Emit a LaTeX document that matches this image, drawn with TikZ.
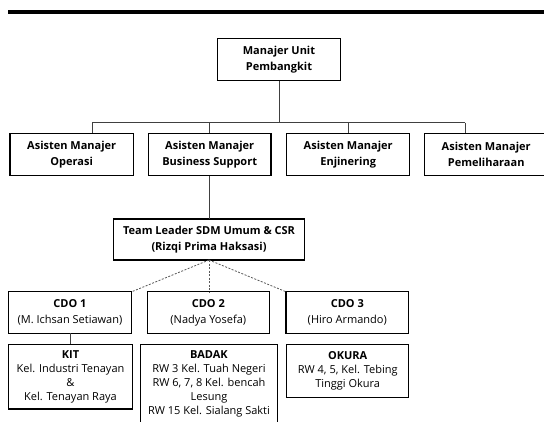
\documentclass[tikz,border=0pt]{standalone}
\usepackage{fontspec}
\setmainfont{Open Sans}
\begin{document}
\begin{tikzpicture}[x=1pt,y=-1pt,
  box/.style={draw=black, line width=1.4pt, inner sep=0pt, outer sep=0pt, align=center, fill=white},
  hd/.style={font=\bfseries\fontsize{11}{16.5}\selectfont},
  cdo/.style={font=\fontsize{11}{15.7}\selectfont},
  area/.style={font=\fontsize{11}{14}\selectfont},
  conn/.style={draw=black!75, line width=0.9pt},
  dconn/.style={draw=black!65, line width=0.8pt, dash pattern=on 2pt off 1.5pt}]
\useasboundingbox (0,0) rectangle (544,421);
\fill[white] (0,0) rectangle (544,421);
% top rule
\coordinate (ruleL) at (8,12);
\coordinate (ruleR) at (546,12);
\draw[line width=4pt] (ruleL) -- (ruleR);

% boxes
\node[box, hd, minimum width=123.4pt, minimum height=42.4pt] (mup) at (279,59.5) {Manajer Unit\\Pembangkit};
\node[box, hd, minimum width=123.3pt, minimum height=42.4pt] (a1) at (71.7,154.5) {Asisten Manajer\\Operasi};
\node[box, hd, minimum width=122.7pt, minimum height=42.4pt] (a2) at (209.7,154.5) {Asisten Manajer\\Business Support};
\node[box, hd, minimum width=123pt, minimum height=42.4pt] (a3) at (348.2,154.5) {Asisten Manajer\\Enjinering};
\node[box, hd, minimum width=123pt, minimum height=42.4pt] (a4) at (486.2,154.5) {Asisten Manajer\\Pemeliharaan};
\node[box, hd, minimum width=190.7pt, minimum height=41pt] (tl) at (209,239.5) {Team Leader SDM Umum \& CSR\\(Rizqi Prima Haksasi)};
\node[box, cdo, minimum width=123.4pt, minimum height=41.7pt] (c1) at (70,312.6) {\textbf{CDO 1}\\(M. Ichsan Setiawan)};
\node[box, cdo, minimum width=122pt, minimum height=41.7pt] (c2) at (208.3,312.6) {\textbf{CDO 2}\\(Nadya Yosefa)};
\node[box, cdo, minimum width=122.7pt, minimum height=41.7pt] (c3) at (347.3,312.6) {\textbf{CDO 3}\\(Hiro Armando)};
\node[box, area, minimum width=124pt, minimum height=64.7pt] (kit) at (70.5,376.7) {\textbf{KIT}\\Kel. Industri Tenayan\\\&\\Kel. Tenayan Raya};
\node[box, area, minimum width=136.6pt, minimum height=79.7pt] (badak) at (209,384.2) {\textbf{BADAK}\\RW 3 Kel. Tuah Negeri\\RW 6, 7, 8 Kel. bencah\\Lesung\\RW 15 Kel. Sialang Sakti};
\node[box, area, minimum width=122pt, minimum height=53pt] (okura) at (347.7,371) {\textbf{OKURA}\\RW 4, 5, Kel. Tebing\\Tinggi Okura};

% bus
\coordinate (b1) at (92,122.7);
\coordinate (b2) at (209.3,122.7);
\coordinate (b3) at (348.7,122.7);
\coordinate (b4) at (465.3,122.7);
\draw[conn] (b1) -- (b4);
\draw[conn] (mup.south) -- (mup.south |- b1);
\draw[conn] (b1) -- (b1 |- a1.north);
\draw[conn] (b2) -- (b2 |- a2.north);
\draw[conn] (b3) -- (b3 |- a3.north);
\draw[conn] (b4) -- (b4 |- a4.north);
\draw[conn] (tl.north) -- (tl.north |- a2.south);
% dashed
\draw[dconn] (tl.south) -- (c1.north east);
\draw[dconn] (tl.south) -- (tl.south |- c2.north);
\draw[dconn] (tl.south) -- (c3.north west);
\draw[conn] (c1.south) -- (kit.north -| c1.south);
\end{tikzpicture}
\end{document}
